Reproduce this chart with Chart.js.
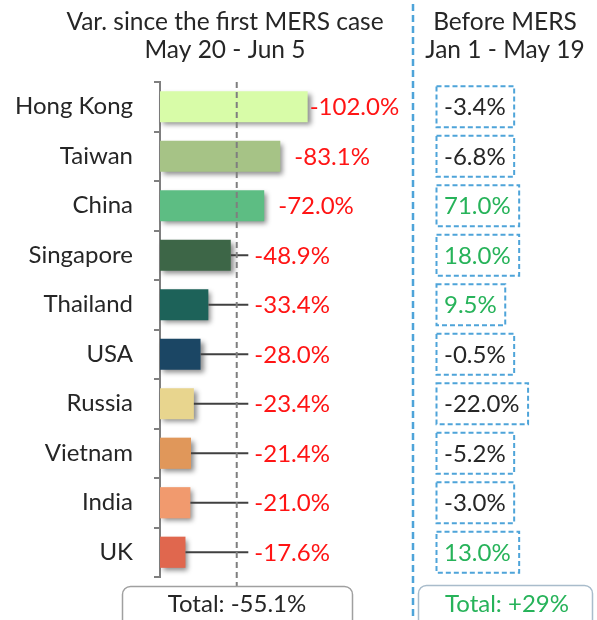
<!DOCTYPE html>
<html>
<head>
<meta charset="utf-8">
<script src="https://cdn.jsdelivr.net/npm/chart.js@4.4.0/dist/chart.umd.min.js"></script>
<style>
html, body { margin: 0; padding: 0; background: #fff; }
#chart { display: block; }
</style>
</head>
<body>
<canvas id="chart" width="597" height="620"></canvas>
<script>
// Dados
const countries = ['Hong Kong', 'Taiwan', 'China', 'Singapore', 'Thailand', 'USA', 'Russia', 'Vietnam', 'India', 'UK'];
const varSinceMers = [-102.0, -83.1, -72.0, -48.9, -33.4, -28.0, -23.4, -21.4, -21.0, -17.6];
const varBeforeMers = [-3.4, -6.8, 71.0, 18.0, 9.5, -0.5, -22.0, -5.2, -3.0, 13.0];
const barColors = ['#d8fca8', '#a6c386', '#5dbd83', '#3d6647', '#1d6259', '#1b4664', '#e8d58e', '#e0975a', '#f19a6e', '#e0674e'];
const totalSince = -55.1;
const totalBefore = 29;
const refLine = 53;     // linha tracejada
const leaderEnd = 61;   // fim das linhas-guia
const titleLeft = ['Var. since the first MERS case', 'May 20 - Jun 5'];
const titleRight = ['Before MERS', 'Jan 1 - May 19'];

const FONT = 'Lato, sans-serif';
const FS = 24;
const RED = '#ff1414';
const GREEN = '#27b35a';
const BLUE = '#4ea4d9';
const DARK = '#262626';

function pct(v) {
    return v.toFixed(1) + '%';
}

function roundBox(ctx, x, y, w, h, r) {
    ctx.beginPath();
    ctx.moveTo(x + r, y);
    ctx.arcTo(x + w, y, x + w, y + h, r);
    ctx.arcTo(x + w, y + h, x, y + h, r);
    ctx.arcTo(x, y + h, x, y, r);
    ctx.arcTo(x, y, x + w, y, r);
    ctx.closePath();
}

// Sombra nas barras + anotações
const decorPlugin = {
    id: 'decor',
    beforeDatasetsDraw(chart) {
        const ctx = chart.ctx;
        ctx.save();
        ctx.shadowColor = 'rgba(0, 0, 0, 0.45)';
        ctx.shadowBlur = 5;
        ctx.shadowOffsetX = 3;
        ctx.shadowOffsetY = 3;
    },
    afterDatasetsDraw(chart) {
        const ctx = chart.ctx;
        ctx.restore();
        const x = chart.scales.x;
        const y = chart.scales.y;
        const area = chart.chartArea;

        // linhas-guia e rótulos
        countries.forEach((c, i) => {
            const v = Math.abs(varSinceMers[i]);
            const cy = y.getPixelForValue(i);
            const xEnd = x.getPixelForValue(v);
            let labelX = xEnd + 2;
            if (v < leaderEnd) {
                const xl = x.getPixelForValue(leaderEnd);
                ctx.save();
                ctx.strokeStyle = '#404040';
                ctx.lineWidth = 2;
                ctx.beginPath();
                ctx.moveTo(xEnd, cy);
                ctx.lineTo(xl, cy);
                ctx.stroke();
                ctx.restore();
                labelX = xl + 6;
            } else if (i > 0) {
                labelX = xEnd + 14;
            }
            ctx.save();
            ctx.font = FS + 'px ' + FONT;
            ctx.fillStyle = RED;
            ctx.textAlign = 'left';
            ctx.textBaseline = 'middle';
            ctx.fillText(pct(varSinceMers[i]), labelX, cy + 1);
            ctx.restore();
        });

        // linha tracejada de referência
        const rx = x.getPixelForValue(refLine);
        ctx.save();
        ctx.strokeStyle = '#7f7f7f';
        ctx.lineWidth = 2;
        ctx.setLineDash([6, 4]);
        ctx.beginPath();
        ctx.moveTo(rx, area.top);
        ctx.lineTo(rx, 586);
        ctx.stroke();
        ctx.restore();
    },
    afterDraw(chart) {
        const ctx = chart.ctx;
        const y = chart.scales.y;
        ctx.save();
        ctx.font = '24.5px ' + FONT;
        ctx.textAlign = 'center';
        ctx.textBaseline = 'alphabetic';
        ctx.fillStyle = DARK;
        ctx.fillText(titleLeft[0], 225, 30);
        ctx.fillText(titleLeft[1], 225, 58);
        ctx.fillText(titleRight[0], 505, 30);
        ctx.fillText(titleRight[1], 505, 58);

        // separador
        ctx.strokeStyle = BLUE;
        ctx.lineWidth = 2.5;
        ctx.setLineDash([7, 4]);
        ctx.beginPath();
        ctx.moveTo(413, 4);
        ctx.lineTo(413, 620);
        ctx.stroke();

        // coluna "Before MERS"
        ctx.font = FS + 'px ' + FONT;
        ctx.textAlign = 'left';
        ctx.textBaseline = 'middle';
        ctx.lineWidth = 2;
        ctx.setLineDash([5, 3]);
        varBeforeMers.forEach((v, i) => {
            const cy = y.getPixelForValue(i);
            const txt = pct(v);
            const w = ctx.measureText(txt).width;
            ctx.strokeStyle = BLUE;
            ctx.strokeRect(436.5, cy - 20.5, w + 16, 41);
            ctx.fillStyle = v < 0 ? DARK : GREEN;
            ctx.fillText(txt, 444, cy + 1);
        });

        // totais
        ctx.setLineDash([]);
        ctx.lineWidth = 1.5;
        ctx.strokeStyle = '#a0a0a0';
        roundBox(ctx, 122.5, 586.5, 230, 50, 8);
        ctx.stroke();
        ctx.strokeStyle = '#a9bccb';
        roundBox(ctx, 418.5, 585.5, 174, 50, 8);
        ctx.stroke();
        ctx.textAlign = 'center';
        ctx.textBaseline = 'alphabetic';
        ctx.fillStyle = DARK;
        ctx.fillText('Total: ' + pct(totalSince), 237, 612);
        ctx.fillStyle = GREEN;
        ctx.fillText('Total: +' + totalBefore + '%', 507, 612);
        ctx.restore();
    }
};

const ctx = document.getElementById('chart').getContext('2d');
const chart = new Chart(ctx, {
    type: 'bar',
    data: {
        labels: countries,
        datasets: [{
            data: varSinceMers.map(v => Math.abs(v)),
            backgroundColor: barColors,
            borderWidth: 0,
            barPercentage: 0.63,
            categoryPercentage: 1,
            clip: false
        }]
    },
    options: {
        indexAxis: 'y',
        responsive: false,
        animation: false,
        devicePixelRatio: 1,
        layout: {
            padding: { top: 82, bottom: 43, left: 0, right: 188 }
        },
        plugins: {
            legend: { display: false },
            tooltip: { enabled: false }
        },
        scales: {
            x: {
                display: false,
                min: 0,
                max: 172
            },
            y: {
                afterFit(scale) { scale.width = 160; },
                grid: {
                    display: true,
                    drawOnChartArea: false,
                    drawTicks: true,
                    tickLength: 6,
                    color: '#7f7f7f',
                    lineWidth: 2
                },
                border: { display: true, color: '#7f7f7f', width: 2 },
                ticks: {
                    color: DARK,
                    padding: 21,
                    font: { family: FONT, size: FS }
                }
            }
        }
    },
    plugins: [decorPlugin]
});
</script>
</body>
</html>
